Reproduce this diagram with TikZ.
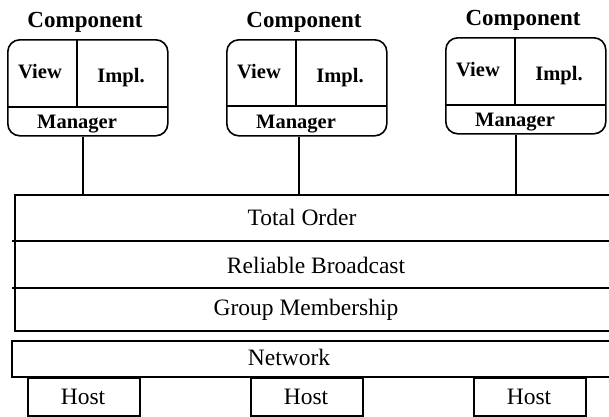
\documentclass[tikz,border=0pt]{standalone}
\usepackage{fontspec}
\setmainfont{Liberation Serif}
\begin{document}
\begin{tikzpicture}[x=1pt,y=-1pt,
  comp/.style={draw,rounded corners=12pt,line width=1.6pt,minimum width=160pt,minimum height=96pt,inner sep=0pt,anchor=north west},
  box/.style={draw,line width=1.8pt,inner sep=0pt,anchor=north west},
  inline/.style={line width=1.5pt},
  conn/.style={line width=1.2pt},
  bt/.style={font=\fontsize{20.5}{24}\selectfont\bfseries,anchor=base,inner sep=0pt},
  ct/.style={font=\fontsize{23}{27}\selectfont\bfseries,anchor=base,inner sep=0pt},
  rt/.style={font=\fontsize{23.5}{28}\selectfont,anchor=base,inner sep=0pt}]
\useasboundingbox (0,0) rectangle (609,416);
\clip (0,0) rectangle (609,416);
% layers
\node[box,line width=2pt,minimum width=620pt,minimum height=136pt] (layers) at (14,194) {};
\coordinate (d1a) at (12,241); \coordinate (d1b) at (630,241);
\coordinate (d2a) at (12,288); \coordinate (d2b) at (630,288);
\draw[inline] (d1a) -- (d1b);
\draw[inline] (d2a) -- (d2b);
\node[rt] (to) at (302,225) {Total Order};
\node[rt] (rb) at (316,273) {Reliable Broadcast};
\node[rt] (gm) at (306,315) {Group Membership};
% network
\node[box,minimum width=620pt,minimum height=36pt] (net) at (11,340) {};
\node[rt] (netl) at (289,365) {Network};
% hosts
\foreach \n/\l in {1/27,2/250,3/473} {
  \node[box,minimum width=112pt,minimum height=38pt] (h\n) at (\l,377) {};
  \node[rt] (hl\n) at (\l+56,404) {Host};
}
% components
\foreach \n/\l/\t/\m/\c in {1/7/39/107/83, 2/226/39/106/299, 3/445/37/105/516} {
  \node[comp] (c\n) at (\l,\t) {};
  \draw[inline] (\l,\m) -- (\l+160,\m);
  \draw[inline] (\l+70,\t) -- (\l+70,\m);
  \node[bt] (v\n) at (\l+33,\t+39) {View};
  \node[bt] (i\n) at (\l+114,\t+43) {Impl.};
  \node[bt] (m\n) at (\l+70,\t+89) {Manager};
  \node[ct] (k\n) at (\l+78,\t-12) {Component};
  \coordinate (t\n) at (\c,194);
  \draw[conn] (c\n.south -| t\n) -- (t\n);
}
\end{tikzpicture}
\end{document}
